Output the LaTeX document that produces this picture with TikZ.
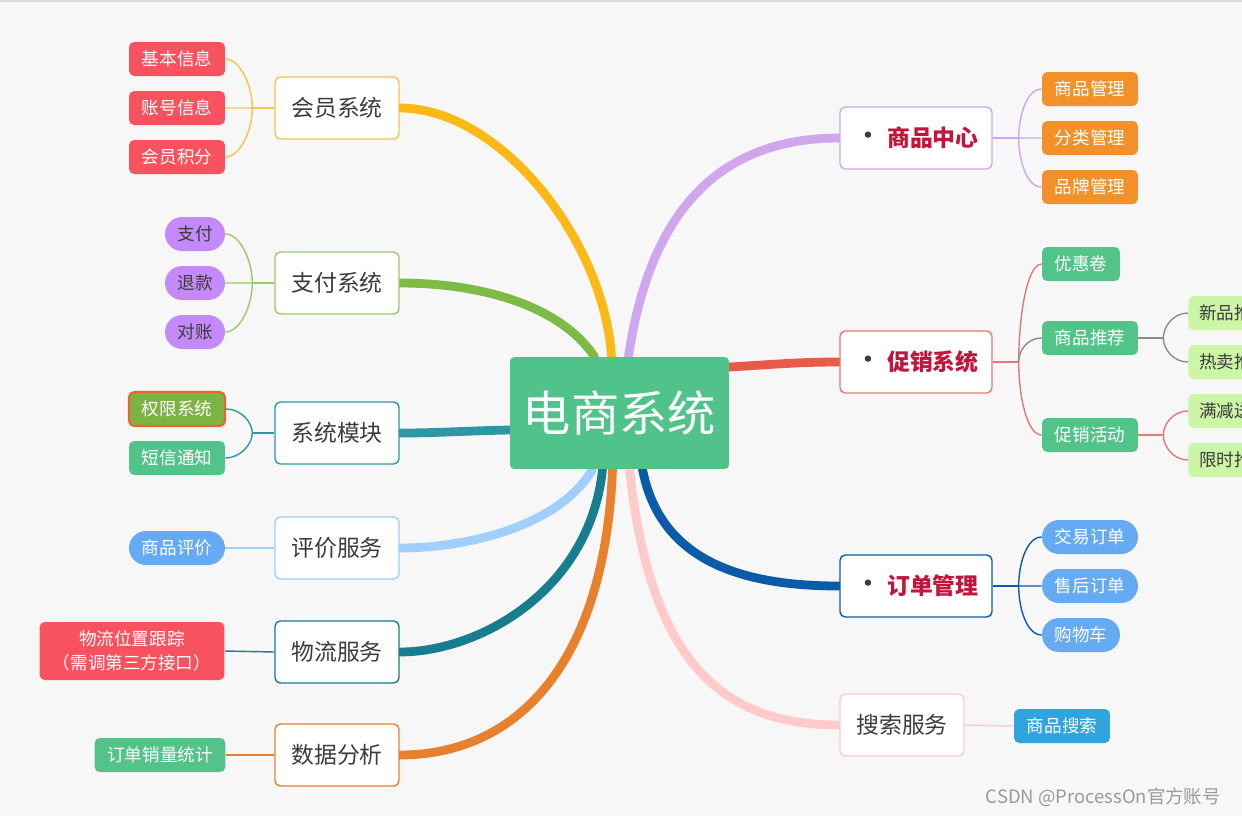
\documentclass[tikz,border=0pt]{standalone}
\usepackage{fontspec}
\setmainfont{Noto Sans CJK SC}
\usepackage{tikz}
\usepackage{xcolor}
\usetikzlibrary{calc}
\pgfdeclarelayer{bg}
\pgfsetlayers{bg,main}

\definecolor{bgcol}{HTML}{F7F7F7}
\definecolor{rootgreen}{HTML}{50C38A}
\definecolor{txtgray}{HTML}{3C3C3C}
\definecolor{hotred}{HTML}{C3143C}
\definecolor{lfRed}{HTML}{F7525E}
\definecolor{lfGreen}{HTML}{52C48A}
\definecolor{lfPurple}{HTML}{C58AF9}
\definecolor{lfBlue}{HTML}{66AAF4}
\definecolor{lfOrange}{HTML}{F2912A}
\definecolor{lfSky}{HTML}{2FA4DE}
\definecolor{lfLime}{HTML}{CCF5A6}
\definecolor{lfOlive}{HTML}{7CB342}
\definecolor{selOrange}{HTML}{E8662A}
\definecolor{hyLn}{HTML}{FBB917}
\definecolor{hyBd}{HTML}{F6C34C}
\definecolor{zfLn}{HTML}{7DBB45}
\definecolor{zfBd}{HTML}{9BC96A}
\definecolor{mkLn}{HTML}{2E97A7}
\definecolor{pjLn}{HTML}{9FCFFA}
\definecolor{wlLn}{HTML}{177E8F}
\definecolor{sjLn}{HTML}{E8812D}
\definecolor{spLn}{HTML}{D0A6EC}
\definecolor{cxLn}{HTML}{E85B4A}
\definecolor{cxBd}{HTML}{E07A72}
\definecolor{ddLn}{HTML}{0B5BA8}
\definecolor{ssLn}{HTML}{FFCACA}
\definecolor{tjLn}{HTML}{8C8C8C}
\definecolor{wmgray}{HTML}{9A9A9A}

\newcommand{\hotdot}[1]{{\color{txtgray}\mdseries\fontsize{17}{15}\selectfont\textbullet}\hspace{0.08cm}#1\hspace{0.6cm}}

\begin{document}
\begin{tikzpicture}[x=0.02cm,y=-0.02cm,
  root/.style={fill=rootgreen, rounded corners=2.5pt, minimum width=4.38cm, minimum height=2.24cm, text=white, font=\fontsize{27.5}{30}\selectfont},
  topic/.style={fill=white, draw, rounded corners=3pt, line width=0.8pt, minimum width=2.48cm, minimum height=1.24cm, text=txtgray, font=\fontsize{13}{15}\selectfont},
  hot/.style={topic, minimum width=3.04cm, text=hotred, font=\fontsize{13}{15}\selectfont\bfseries},
  leaf/.style={rounded corners=3pt, minimum width=1.92cm, minimum height=0.68cm, inner sep=1pt, text=white, font=\fontsize{10}{14}\selectfont},
  pill/.style={leaf, rounded corners=0.34cm},
  lime/.style={leaf, anchor=west, fill=lfLime, text=txtgray, inner xsep=0.22cm, minimum width=0pt},
  branch/.style={line width=5pt, line cap=round},
  twig/.style={line width=0.8pt},
  wm/.style={text=wmgray, font=\fontsize{10.5}{12}\selectfont}]
\useasboundingbox (0,0) rectangle (1242,816);
\clip (0,0) rectangle (1242,816);

\node[root] (es) at (619.5,413) {电商系统};

\node[topic,draw=hyBd] (hy) at (337,108) {会员系统};
\node[leaf,fill=lfRed] (hy1) at (177,59) {基本信息};
\node[leaf,fill=lfRed] (hy2) at (177,108) {账号信息};
\node[leaf,fill=lfRed] (hy3) at (177,157) {会员积分};

\node[topic,draw=zfBd] (zf) at (337,283) {支付系统};
\node[pill,fill=lfPurple,text=txtgray,minimum width=1.2cm] (zf1) at (195,234) {支付};
\node[pill,fill=lfPurple,text=txtgray,minimum width=1.2cm] (zf2) at (195,283) {退款};
\node[pill,fill=lfPurple,text=txtgray,minimum width=1.2cm] (zf3) at (195,332) {对账};

\node[topic,draw=mkLn] (mk) at (337,433) {系统模块};
\node[leaf,fill=lfOlive,draw=selOrange,line width=1.2pt] (mk1) at (177,409) {权限系统};
\node[leaf,fill=lfGreen] (mk2) at (177,458) {短信通知};

\node[topic,draw=pjLn] (pj) at (337,548) {评价服务};
\node[pill,fill=lfBlue] (pj1) at (177,548) {商品评价};

\node[topic,draw=wlLn] (wl) at (337,652) {物流服务};
\node[leaf,fill=lfRed,minimum width=3.7cm,minimum height=1.16cm,align=center] (wl1) at (132,651) {物流位置跟踪\\（需调第三方接口）};

\node[topic,draw=sjLn] (sj) at (337,755) {数据分析};
\node[leaf,fill=lfGreen,minimum width=2.62cm] (sj1) at (160,755) {订单销量统计};

\node[hot,draw=spLn] (sp) at (916,138) {\hotdot{商品中心}};
\node[leaf,fill=lfOrange] (sp1) at (1090,89) {商品管理};
\node[leaf,fill=lfOrange] (sp2) at (1090,138) {分类管理};
\node[leaf,fill=lfOrange] (sp3) at (1090,187) {品牌管理};

\node[hot,draw=cxBd] (cx) at (916,362) {\hotdot{促销系统}};
\node[leaf,fill=lfGreen,minimum width=1.56cm] (cx1) at (1081,264) {优惠卷};
\node[leaf,fill=lfGreen] (cx2) at (1090,338) {商品推荐};
\node[leaf,fill=lfGreen] (cx3) at (1090,435) {促销活动};
\node[lime] (tj1) at (1188,313) {新品推荐};
\node[lime] (tj2) at (1188,362) {热卖推荐};
\node[lime] (hd1) at (1188,411) {满减送};
\node[lime] (hd2) at (1188,460) {限时抢购};

\node[hot,draw=ddLn] (dd) at (916,586) {\hotdot{订单管理}};
\node[pill,fill=lfBlue] (dd1) at (1090,537) {交易订单};
\node[pill,fill=lfBlue] (dd2) at (1090,586) {售后订单};
\node[pill,fill=lfBlue,minimum width=1.56cm] (dd3) at (1081,635) {购物车};

\node[topic,draw=ssLn] (ss) at (902,725) {搜索服务};
\node[leaf,fill=lfSky] (ss1) at (1062,726) {商品搜索};

\node[wm,anchor=east] (wm) at (1227,797) {CSDN @ProcessOn官方账号};

\begin{pgfonlayer}{bg}
\fill[bgcol] (0,0) rectangle (1242,816);
\draw[gray!30,line width=1pt] (0,1) -- (1242,1);

\draw[branch,hyLn] ($(es.north)+(-8,0)$) .. controls (604,240) and (500,108) .. (hy.east);
\draw[branch,zfLn] ($(es.north)+(-25,0)$) .. controls (560,305) and (480,283) .. (zf.east);
\draw[branch,mkLn] ($(es.west)+(0,17)$) .. controls (460,431) and (440,433) .. (mk.east);
\draw[branch,pjLn] ($(es.south)+(-27,0)$) .. controls (560,525) and (470,548) .. (pj.east);
\draw[branch,wlLn] ($(es.south)+(-17,0)$) .. controls (590,590) and (480,652) .. (wl.east);
\draw[branch,sjLn] ($(es.south)+(-7,0)$) .. controls (605,660) and (520,755) .. (sj.east);
\draw[branch,spLn] ($(es.north)+(9,0)$) .. controls (650,210) and (720,138) .. (sp.west);
\draw[branch,cxLn] ($(es.east)+(0,-46)$) .. controls (780,364) and (800,362) .. (cx.west);
\draw[branch,ddLn] ($(es.south)+(23,0)$) .. controls (660,560) and (740,586) .. (dd.west);
\draw[branch,ssLn] ($(es.south)+(10,0)$) .. controls (650,660) and (720,725) .. (ss.west);

\draw[twig,hyBd] (hy.west) -- ++(-22,0) coordinate (hyF);
\foreach \k in {hy1,hy2,hy3}
  \draw[twig,hyBd] (hyF) .. controls ($(hyF)!0.45!(hyF |- \k.east)$) and ($(\k.east)+(15,0)$) .. (\k.east);
\draw[twig,zfBd] (zf.west) -- ++(-22,0) coordinate (zfF);
\foreach \k in {zf1,zf2,zf3}
  \draw[twig,zfBd] (zfF) .. controls ($(zfF)!0.45!(zfF |- \k.east)$) and ($(\k.east)+(15,0)$) .. (\k.east);
\draw[twig,mkLn] (mk.west) -- ++(-22,0) coordinate (mkF);
\foreach \k in {mk1,mk2}
  \draw[twig,mkLn] (mkF) .. controls ($(mkF)!0.45!(mkF |- \k.east)$) and ($(\k.east)+(15,0)$) .. (\k.east);
\draw[twig,pjLn] (pj.west) -- (pj1.east);
\draw[twig,wlLn] (wl.west) -- (wl1.east);
\draw[twig,sjLn] (sj.west) -- (sj1.east);

\draw[twig,spLn] (sp.east) -- ++(26,0) coordinate (spF);
\foreach \k in {sp1,sp2,sp3}
  \draw[twig,spLn] (spF) .. controls ($(spF)!0.45!(spF |- \k.west)$) and ($(\k.west)+(-15,0)$) .. (\k.west);
\draw[twig,cxBd] (cx.east) -- ++(26,0) coordinate (cxF);
\foreach \k in {cx1,cx3}
  \draw[twig,cxBd] (cxF) .. controls ($(cxF)!0.45!(cxF |- \k.west)$) and ($(\k.west)+(-15,0)$) .. (\k.west);
\draw[twig,tjLn] (cxF) .. controls ($(cxF)!0.45!(cxF |- cx2.west)$) and ($(cx2.west)+(-15,0)$) .. (cx2.west);
\draw[twig,tjLn] (cx2.east) -- ++(25,0) coordinate (tjF);
\foreach \k in {tj1,tj2}
  \draw[twig,tjLn] (tjF) .. controls ($(tjF)!0.45!(tjF |- \k.west)$) and ($(\k.west)+(-15,0)$) .. (\k.west);
\draw[twig,cxBd] (cx3.east) -- ++(25,0) coordinate (hdF);
\foreach \k in {hd1,hd2}
  \draw[twig,cxBd] (hdF) .. controls ($(hdF)!0.45!(hdF |- \k.west)$) and ($(\k.west)+(-15,0)$) .. (\k.west);
\draw[twig,ddLn] (dd.east) -- ++(26,0) coordinate (ddF);
\foreach \k in {dd1,dd2,dd3}
  \draw[twig,ddLn] (ddF) .. controls ($(ddF)!0.45!(ddF |- \k.west)$) and ($(\k.west)+(-15,0)$) .. (\k.west);
\draw[twig,ssLn] (ss.east) -- (ss1.west);
\end{pgfonlayer}
\end{tikzpicture}
\end{document}
